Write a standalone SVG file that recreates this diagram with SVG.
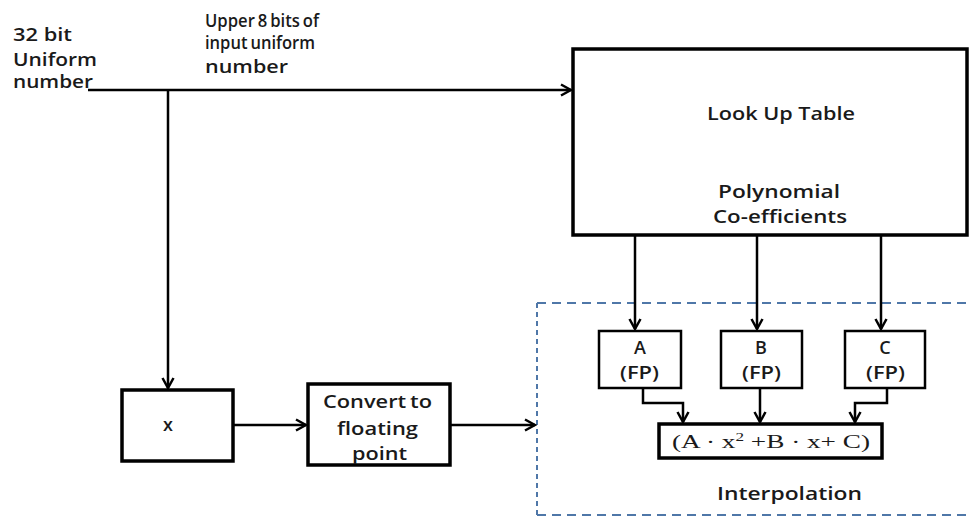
<svg xmlns="http://www.w3.org/2000/svg" width="969" height="517" viewBox="0 0 969 517">
<defs>
<style>
.t{font-family:"Open Sans","Liberation Sans",sans-serif;font-size:18px;font-weight:600;fill:#1a1a1a;}
.tight{word-spacing:-1.5px;}
.f{font-family:"Liberation Serif","DejaVu Serif",serif;font-size:19px;fill:#1a1a1a;}
.box{fill:#fff;stroke:#000;stroke-width:3.5;}
.sbox{fill:#fff;stroke:#000;stroke-width:2.5;}
.ln{fill:none;stroke:#000;stroke-width:2.5;}
.dash{fill:none;stroke:#4f77a8;stroke-width:2;}
</style>
<marker id="ah" viewBox="0 0 14 14" refX="12" refY="7" markerWidth="14" markerHeight="14" markerUnits="userSpaceOnUse" orient="auto">
<path d="M2,1.5 L12,7 L2,12.5" fill="none" stroke="#000" stroke-width="2.5"/>
</marker>
</defs>
<rect width="969" height="517" fill="#fff"/>

<g id="labels">
<text class="t" x="13" y="41" textLength="59" lengthAdjust="spacingAndGlyphs">32 bit</text>
<text class="t" x="13" y="66" textLength="84" lengthAdjust="spacingAndGlyphs">Uniform</text>
<text class="t" x="13" y="88" textLength="80" lengthAdjust="spacingAndGlyphs">number</text>
<text class="t tight" x="205" y="27" textLength="114" lengthAdjust="spacingAndGlyphs">Upper 8 bits of</text>
<text class="t tight" x="205" y="49" textLength="110" lengthAdjust="spacingAndGlyphs">input uniform</text>
<text class="t" x="205" y="73" textLength="83" lengthAdjust="spacingAndGlyphs">number</text>
</g>

<g id="interpolation-region">
<line class="dash" x1="537" y1="303" x2="969" y2="303" stroke-dasharray="9,6"/>
<line class="dash" x1="537" y1="515" x2="969" y2="515" stroke-dasharray="9,6"/>
<line class="dash" x1="537" y1="303" x2="537" y2="517" stroke-dasharray="5,4"/>
<text class="t" x="717" y="500" textLength="145" lengthAdjust="spacingAndGlyphs">Interpolation</text>
</g>

<g id="lut">
<rect class="box" x="573" y="49" width="394" height="186"/>
<text class="t" x="707" y="120" textLength="148" lengthAdjust="spacingAndGlyphs">Look Up Table</text>
<text class="t" x="718" y="198" textLength="122" lengthAdjust="spacingAndGlyphs">Polynomial</text>
<text class="t" x="713" y="223" textLength="134" lengthAdjust="spacingAndGlyphs">Co-efficients</text>
</g>

<g id="x-box">
<rect class="box" x="122" y="390" width="111" height="71"/>
<text class="t" x="168" y="431" text-anchor="middle">x</text>
</g>

<g id="convert">
<rect class="box" x="308" y="384" width="142" height="81"/>
<text class="t tight" x="323" y="408" textLength="109" lengthAdjust="spacingAndGlyphs">Convert to</text>
<text class="t" x="337" y="435" textLength="81" lengthAdjust="spacingAndGlyphs">floating</text>
<text class="t" x="352" y="460" textLength="55" lengthAdjust="spacingAndGlyphs">point</text>
</g>

<g id="a-box">
<rect class="sbox" x="599" y="331" width="82" height="57"/>
<text class="t" x="640" y="354" text-anchor="middle">A</text>
<text class="t" x="620" y="379" textLength="39" lengthAdjust="spacingAndGlyphs">(FP)</text>
</g>
<g id="b-box">
<rect class="sbox" x="721" y="331" width="81" height="57"/>
<text class="t" x="761" y="354" text-anchor="middle">B</text>
<text class="t" x="742" y="379" textLength="39" lengthAdjust="spacingAndGlyphs">(FP)</text>
</g>
<g id="c-box">
<rect class="sbox" x="845" y="331" width="80" height="57"/>
<text class="t" x="885" y="354" text-anchor="middle">C</text>
<text class="t" x="866" y="379" textLength="39" lengthAdjust="spacingAndGlyphs">(FP)</text>
</g>

<g id="formula">
<rect class="box" x="659" y="424" width="223" height="34"/>
<text class="f" x="672" y="448" textLength="198" lengthAdjust="spacingAndGlyphs">(A · x<tspan font-size="12" dy="-7">2</tspan><tspan dy="7">  +B  ·  x+ C)</tspan></text>
</g>

<g id="connectors">
<line class="ln" x1="88" y1="90" x2="571" y2="90" marker-end="url(#ah)"/>
<line class="ln" x1="168" y1="90" x2="168" y2="388" marker-end="url(#ah)"/>
<line class="ln" x1="233" y1="425" x2="306" y2="425" marker-end="url(#ah)"/>
<line class="ln" x1="450" y1="425" x2="535" y2="425" marker-end="url(#ah)"/>
<line class="ln" x1="635" y1="236" x2="635" y2="329" marker-end="url(#ah)"/>
<line class="ln" x1="757" y1="236" x2="757" y2="329" marker-end="url(#ah)"/>
<line class="ln" x1="881" y1="236" x2="881" y2="329" marker-end="url(#ah)"/>
<polyline class="ln" points="643,388 643,403 683,403 683,422" marker-end="url(#ah)"/>
<line class="ln" x1="760" y1="388" x2="760" y2="422" marker-end="url(#ah)"/>
<polyline class="ln" points="887,388 887,403 855,403 855,422" marker-end="url(#ah)"/>
</g>
</svg>
